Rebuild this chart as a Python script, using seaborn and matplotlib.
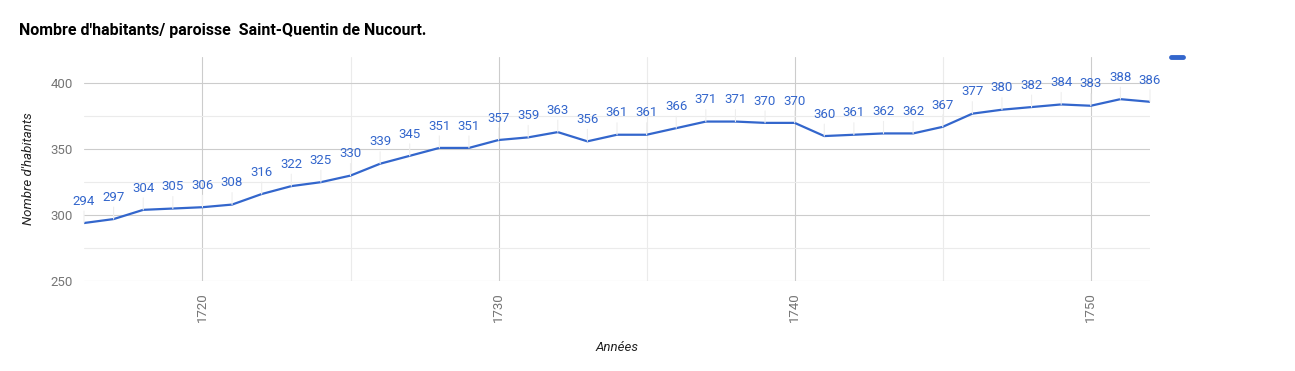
import pandas as pd
import matplotlib.pyplot as plt
import seaborn as sns
from matplotlib.lines import Line2D
from matplotlib.ticker import MultipleLocator

# population per year
years = list(range(1716, 1753))
habitants = [294, 297, 304, 305, 306, 308, 316, 322, 325, 330,
             339, 345, 351, 351, 357, 359, 363, 356, 361, 361,
             366, 371, 371, 370, 370, 360, 361, 362, 362, 367,
             377, 380, 382, 384, 383, 388, 386]

df = pd.DataFrame({'annee': years, 'habitants': habitants})

sns.set_style('white')
plt.rcParams['font.family'] = ['Roboto', 'DejaVu Sans']

blue = '#3366cc'
W, H = 1295, 371
fig = plt.figure(figsize=(W / 100, H / 100), dpi=100)
ax = fig.add_axes([84 / W, 1 - 281 / H, (1150 - 84) / W, (281 - 57) / H])

sns.lineplot(x='annee', y='habitants', data=df, ax=ax, color=blue, linewidth=1.6)

# data labels with faint stems
for _, row in df.iterrows():
    ax.annotate(str(row['habitants']),
                xy=(row['annee'], row['habitants']),
                xytext=(0, 11), textcoords='offset points',
                ha='center', va='bottom', fontsize=9.5, color=blue,
                arrowprops=dict(arrowstyle='-', color='#eeeeee', lw=0.8,
                                shrinkA=0, shrinkB=0))

ax.set_xlim(1716, 1752)
ax.set_ylim(250, 420)
ax.set_yticks([250, 300, 350, 400])
ax.yaxis.set_minor_locator(MultipleLocator(25))
ax.set_xticks([1720, 1730, 1740, 1750])
ax.xaxis.set_minor_locator(MultipleLocator(5))
ax.grid(which='major', color='#cccccc', lw=0.8)
ax.grid(which='minor', color='#ebebeb', lw=0.8)
ax.set_axisbelow(True)
for s in ax.spines.values():
    s.set_visible(False)
ax.tick_params(which='both', length=0)
ax.tick_params(axis='y', labelsize=9.5, labelcolor='#757575', pad=8)
ax.tick_params(axis='x', labelsize=9.5, labelcolor='#757575', labelrotation=90, pad=8)

ax.set_xlabel('Années', fontsize=9.5, style='italic', color='#222222', labelpad=14)
ax.set_ylabel("Nombre d'habitants", fontsize=9.5, style='italic', color='#222222', labelpad=11)

fig.text(19 / W, 1 - 30 / H, "Nombre d'habitants/ paroisse  Saint-Quentin de Nucourt.",
         fontsize=11.5, fontweight='bold', color='black', va='center')

# legend marker without text
fig.add_artist(Line2D([1171 / W, 1183 / W], [1 - 57 / H, 1 - 57 / H], color=blue, lw=3.5))

fig.savefig('out.png', dpi=100)
